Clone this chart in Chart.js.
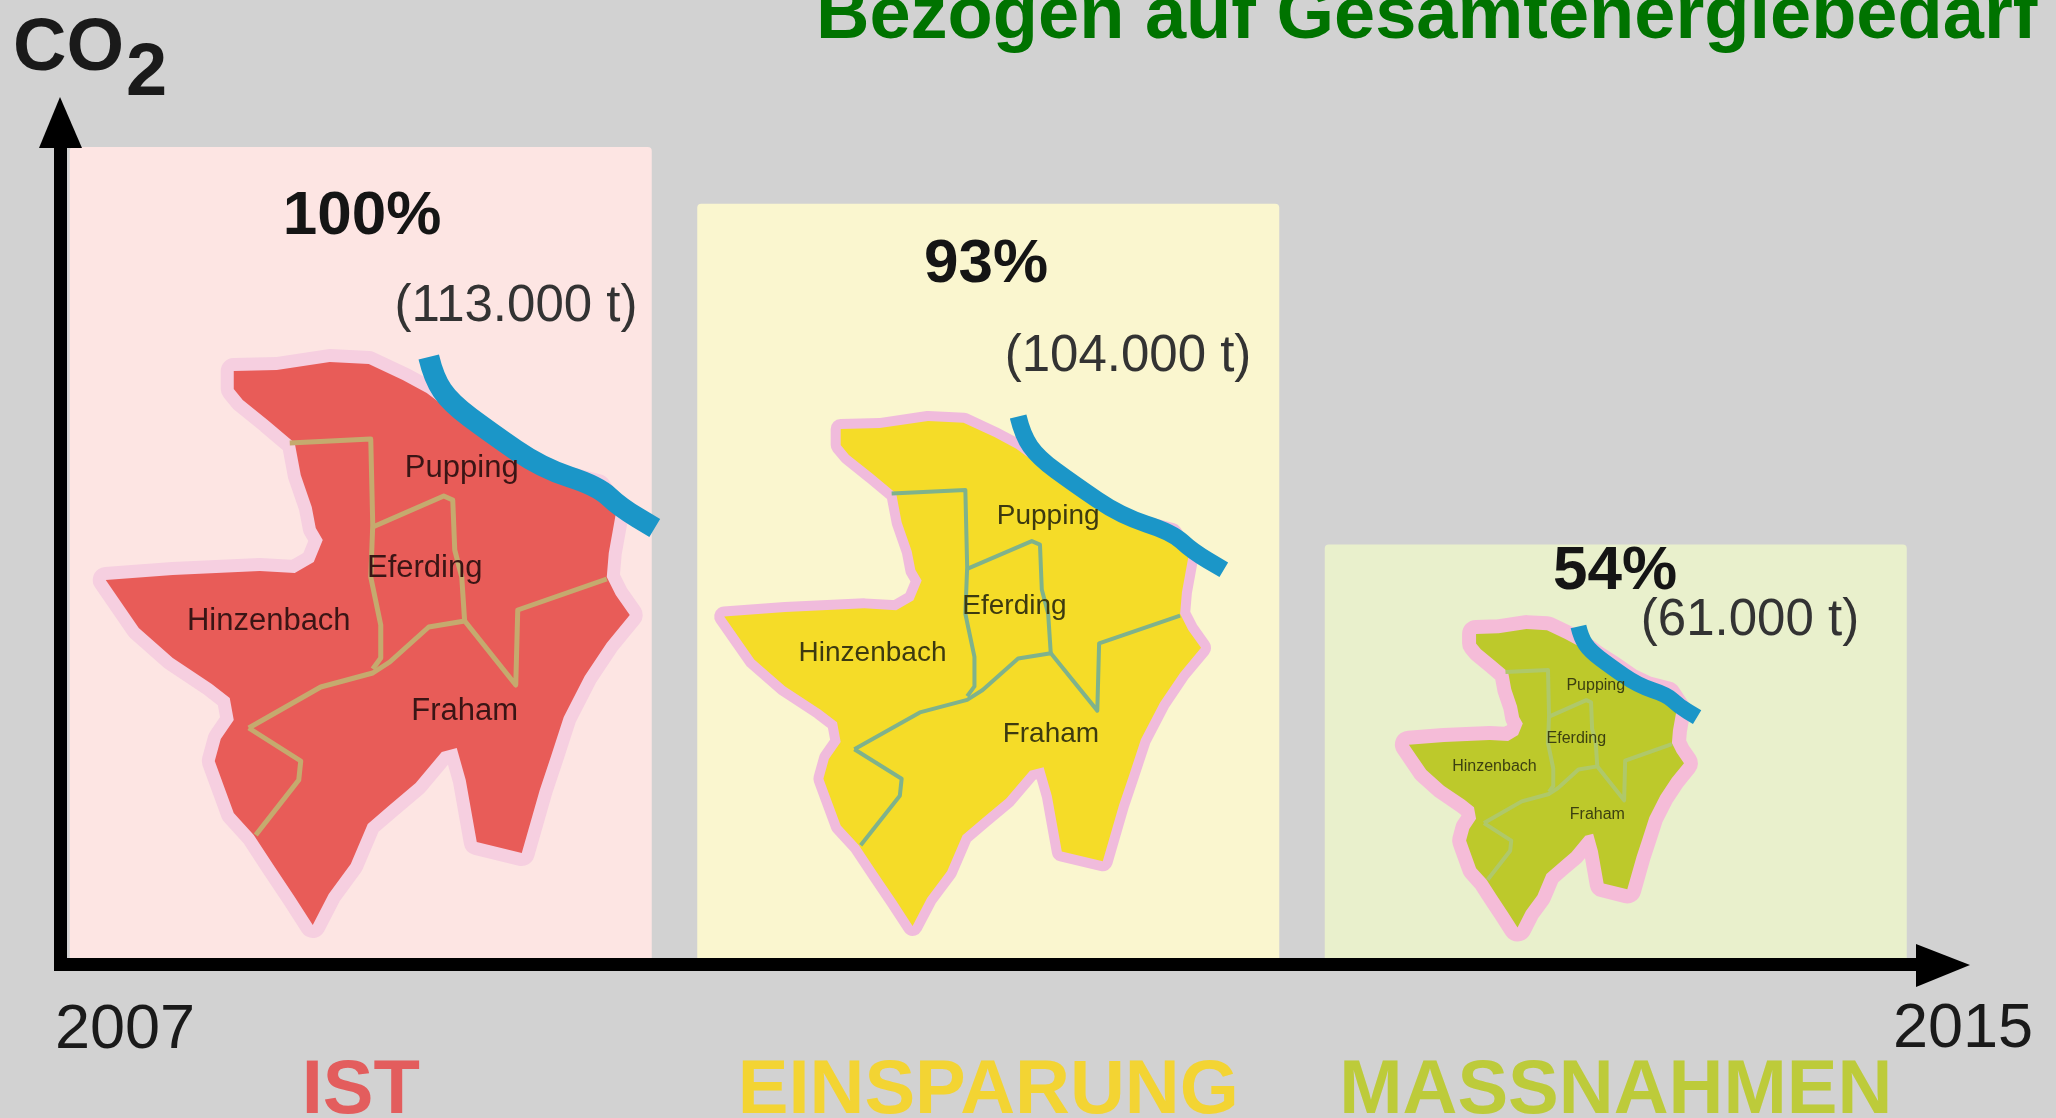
<!DOCTYPE html>
<html lang="de">
<head>
<meta charset="utf-8">
<title>CO2</title>
<script src="https://cdn.jsdelivr.net/npm/chart.js@4"></script>
<style>
html,body{margin:0;padding:0;background:#d2d2d2;overflow:hidden}
canvas{display:block}
</style>
</head>
<body>
<canvas id="c" width="2056" height="1118"></canvas>
<script>
// Data
const categories = ['IST', 'EINSPARUNG', 'MASSNAHMEN'];
const barHeights = [100, 93, 51];
const percentLabels = ['100%', '93%', '54%'];
const tonneLabels = ['(113.000 t)', '(104.000 t)', '(61.000 t)'];
const startYear = '2007';
const endYear = '2015';
const titleText = 'Bezogen auf Gesamtenergiebedarf';

// Map illustration outline, in units of the first panel
const mapOutline = [[234,371],[277,370],[330,362],[369,364],[403,380],[427,393],[460,418],[490,437],[525,461],[559,477],[598,487],[616,514],[609,553],[607,577],[616,595],[630,615],[607,643],[585,676],[564,717],[551,757],[540,790],[522,853],[477,842],[466,780],[457,748],[442,752],[416,783],[390,805],[368,824],[351,864],[329,894],[313,925],[295,897],[273,864],[254,835],[234,813],[223,783],[215,761],[221,739],[234,720],[230,698],[212,684],[173,658],[139,628],[106,580],[173,575],[260,571],[295,573],[314,562],[323,540],[316,528],[312,507],[301,475],[295,443],[269,421],[243,400],[234,389]];
const mapBorders = [
  [[290,443],[371,439],[373,525],[371,577],[381,625],[381,658],[373,669]],
  [[373,527],[444,496],[453,500],[455,550],[462,577],[465,623]],
  [[249,728],[321,687],[373,673],[390,662],[429,627],[465,621],[516,685],[518,610],[607,579]],
  [[249,728],[301,761],[299,780],[256,835]]
];
const mapRiver = [[429,357],[434,378],[451,403],[490,432],[542,468],[598,486],[620,507],[655,528]];
const placeNames = ['Pupping', 'Eferding', 'Hinzenbach', 'Fraham'];
const placeAnchors = [[462,477],[425,577],[269,630],[465,720]];

// Styles
const bg = '#d2d2d2';
const barColors = ['#fde5e3', '#faf6cf', '#e9f0cc'];
const labelColors = ['#e35d5d', '#f3d433', '#bdcb3a'];
const mapFill = ['#e85c58', '#f5dc28', '#bdc92b'];
const mapHalo = ['#f6cfe0', '#f0bbdc', '#f5bcd8'];
const mapLine = ['#c5aa6e', '#7fb28c', '#afc86a'];
const placeColor = ['#3a1515', '#3d3a10', '#3c4010'];
const haloWidth = [26, 20, 28];
const riverWidth = [21, 17, 16];
const lineWidth = [5, 4, 4];
const mapScaleX = [1, 0.91, 0.525];
const mapScaleY = [1, 0.897, 0.53];
const mapShiftX = [0, -32, -73];
const mapShiftY = [0, -2.5, -13];
const placeFont = [31, 28, 16];
const FONT = '"Liberation Sans", Arial, sans-serif';
const REF_X = 361, REF_BASE = 958;

const decorations = {
  id: 'decorations',
  beforeDraw(chart) {
    const c = chart.ctx;
    c.save();
    c.fillStyle = bg;
    c.fillRect(0, 0, chart.width, chart.height);
    c.restore();
  },
  afterDatasetsDraw(chart) {
    const c = chart.ctx;
    const bars = chart.getDatasetMeta(0).data;
    c.save();
    bars.forEach((bar, i) => {
      const px = p => bar.x + mapShiftX[i] + (p[0] - REF_X) * mapScaleX[i];
      const py = p => bar.base + mapShiftY[i] - (REF_BASE - p[1]) * mapScaleY[i];
      const trace = pts => {
        c.beginPath();
        pts.forEach((p, k) => k ? c.lineTo(px(p), py(p)) : c.moveTo(px(p), py(p)));
      };
      const traceSmooth = pts => {
        c.beginPath();
        c.moveTo(px(pts[0]), py(pts[0]));
        for (let k = 1; k < pts.length - 1; k++) {
          const mx = (px(pts[k]) + px(pts[k + 1])) / 2, my = (py(pts[k]) + py(pts[k + 1])) / 2;
          c.quadraticCurveTo(px(pts[k]), py(pts[k]), mx, my);
        }
        const last = pts[pts.length - 1];
        c.lineTo(px(last), py(last));
      };
      c.lineJoin = 'round';
      c.lineCap = 'butt';
      trace(mapOutline); c.closePath();
      c.strokeStyle = mapHalo[i]; c.lineWidth = haloWidth[i]; c.stroke();
      c.fillStyle = mapFill[i]; c.fill();
      c.strokeStyle = mapLine[i]; c.lineWidth = lineWidth[i];
      mapBorders.forEach(b => { trace(b); c.stroke(); });
      traceSmooth(mapRiver);
      c.strokeStyle = '#1b96c8'; c.lineWidth = riverWidth[i]; c.stroke();
      c.textAlign = 'center'; c.textBaseline = 'alphabetic';
      c.fillStyle = placeColor[i];
      c.font = placeFont[i] + 'px ' + FONT;
      placeNames.forEach((n, k) => c.fillText(n, px(placeAnchors[k]), py(placeAnchors[k])));
    });

    // Value labels
    const pctY = [234, 282, 589], pctX = [362, 986, 1615];
    const tonY = [321, 371, 635], tonX = [516, 1128, 1750];
    c.textAlign = 'center'; c.textBaseline = 'alphabetic';
    percentLabels.forEach((t, i) => {
      c.fillStyle = '#151515';
      c.font = 'bold 62px ' + FONT;
      c.fillText(t, pctX[i], pctY[i]);
      c.fillStyle = '#333';
      c.font = '51px ' + FONT;
      c.fillText(tonneLabels[i], tonX[i], tonY[i]);
    });

    // Axes with arrow heads
    const a = chart.chartArea;
    const axisX = a.left + 7, axisY = a.bottom;
    c.fillStyle = '#000';
    c.fillRect(axisX, 147, 13, axisY - 147 + 13);
    c.fillRect(axisX + 2, axisY, 1916 - axisX - 2, 13);
    c.beginPath(); c.moveTo(60, 97); c.lineTo(82, 148); c.lineTo(39, 148); c.closePath(); c.fill();
    c.beginPath(); c.moveTo(1970, axisY + 7); c.lineTo(1916, axisY - 14); c.lineTo(1916, axisY + 29); c.closePath(); c.fill();

    // Axis texts and heading
    c.fillStyle = '#1a1a1a';
    c.font = '63px ' + FONT;
    c.textAlign = 'left';
    c.fillText(startYear, 55, 1048);
    c.fillText(endYear, 1893, 1047);
    c.font = 'bold 74px ' + FONT;
    c.fillText('CO', 13, 70);
    c.fillText('2', 126, 95);
    c.fillStyle = '#007300';
    c.fillText(titleText, 816, 38);
    c.restore();
  }
};

new Chart(document.getElementById('c'), {
  type: 'bar',
  data: {
    labels: categories,
    datasets: [{
      data: barHeights,
      backgroundColor: barColors,
      borderRadius: { topLeft: 4, topRight: 4, bottomLeft: 0, bottomRight: 0 },
      borderSkipped: false,
      barPercentage: 0.9275,
      categoryPercentage: 1
    }]
  },
  options: {
    responsive: false,
    animation: false,
    layout: { autoPadding: false, padding: { left: 47, right: 126.5, top: 147, bottom: 0 } },
    plugins: { legend: { display: false }, tooltip: { enabled: false }, title: { display: false } },
    scales: {
      x: {
        grid: { display: false },
        border: { display: false },
        afterFit(s) { s.height = 160; },
        ticks: {
          autoSkip: false, maxRotation: 0, minRotation: 0, padding: 80,
          color: labelColors,
          font: { family: FONT, size: 76, weight: 'bold' }
        }
      },
      y: { display: false, min: 0, max: 100 }
    }
  },
  plugins: [decorations]
});
</script>
</body>
</html>
